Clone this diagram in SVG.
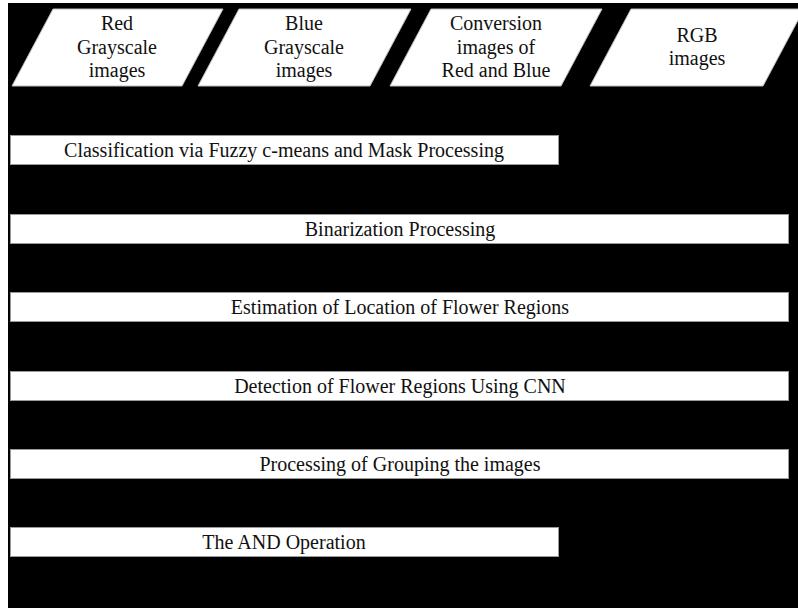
<svg xmlns="http://www.w3.org/2000/svg" width="798" height="608" viewBox="0 0 798 608">
<style>
.io{fill:#fff;stroke:#bdbdbd;stroke-width:1}
.box{fill:#fff;stroke:#9a9a9a;stroke-width:1}
text{font-family:"Liberation Serif","Times New Roman",serif;font-size:20px;fill:#111;text-anchor:middle}
</style>
<rect x="0" y="0" width="798" height="608" fill="#fff"/>
<rect x="8" y="3" width="790" height="605" fill="#000"/>
<g id="red-grayscale">
<polygon class="io" points="53,9 223,9 182,86 12,86"/>
<text x="117" y="30">Red</text>
<text x="117" y="54">Grayscale</text>
<text x="117" y="77">images</text>
</g>
<g id="blue-grayscale">
<polygon class="io" points="239,9 411,9 370,86 198,86"/>
<text x="304" y="30">Blue</text>
<text x="304" y="54">Grayscale</text>
<text x="304" y="77">images</text>
</g>
<g id="conversion">
<polygon class="io" points="431,9 602,9 561,86 390,86"/>
<text x="496" y="30">Conversion</text>
<text x="496" y="54">images of</text>
<text x="496" y="77">Red and Blue</text>
</g>
<g id="rgb">
<polygon class="io" points="631,9 804,9 763,86 590,86"/>
<text x="697" y="42">RGB</text>
<text x="697" y="65">images</text>
</g>
<g id="classification">
<rect class="box" x="10.5" y="135.5" width="548" height="29"/>
<text x="284" y="157">Classification via Fuzzy c-means and Mask Processing</text>
</g>
<g id="binarization">
<rect class="box" x="10.5" y="214.5" width="778" height="29"/>
<text x="400" y="236">Binarization Processing</text>
</g>
<g id="estimation">
<rect class="box" x="10.5" y="292.5" width="778" height="29"/>
<text x="400" y="314">Estimation of Location of Flower Regions</text>
</g>
<g id="detection">
<rect class="box" x="10.5" y="371.5" width="778" height="29"/>
<text x="400" y="393">Detection of Flower Regions Using CNN</text>
</g>
<g id="grouping">
<rect class="box" x="10.5" y="449.5" width="778" height="29"/>
<text x="400" y="471">Processing of Grouping the images</text>
</g>
<g id="and-operation">
<rect class="box" x="10.5" y="527.5" width="548" height="29"/>
<text x="284" y="549">The AND Operation</text>
</g>
<g id="connectors"></g>
</svg>
